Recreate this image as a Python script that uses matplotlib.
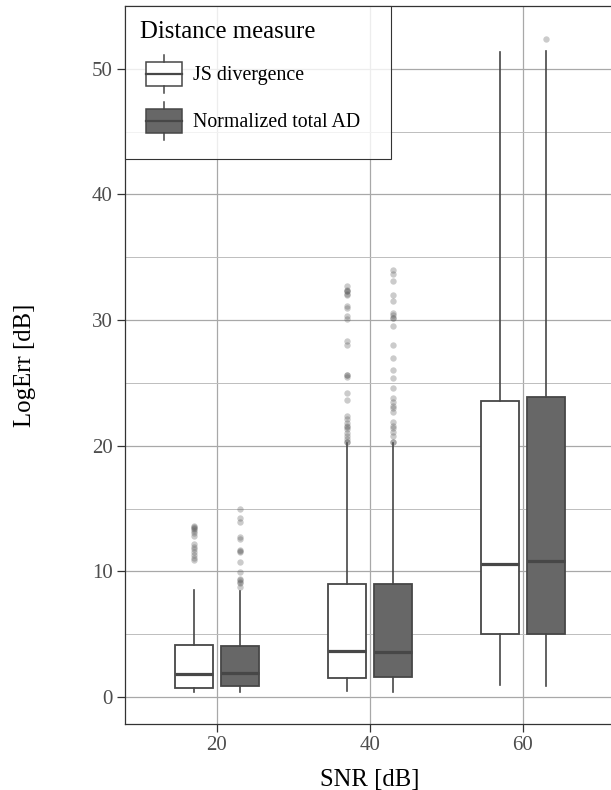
import numpy as np
import matplotlib
matplotlib.use("Agg")
import matplotlib.pyplot as plt
from matplotlib.patches import Patch, Rectangle
from matplotlib.lines import Line2D
from matplotlib.legend_handler import HandlerBase
from matplotlib.ticker import MultipleLocator

plt.rcParams['font.family'] = ['Liberation Serif', 'DejaVu Serif']

# data
snr_labels = ['20', '40', '60']
measures = ['JS divergence', 'Normalized total AD']

js_q1 = [0.72, 1.49, 5.0]
js_med = [1.81, 3.65, 10.6]
js_q3 = [4.14, 8.97, 23.57]
js_lo = [0.42, 0.48, 0.96]
js_hi = [8.52, 20.2, 51.3]

ad_q1 = [0.9, 1.62, 5.0]
ad_med = [1.89, 3.6, 10.83]
ad_q3 = [4.06, 9.0, 23.9]
ad_lo = [0.37, 0.42, 0.88]
ad_hi = [8.46, 20.2, 51.4]

js_out_20 = [13.64, 13.51, 13.45, 13.38, 13.22, 13.03, 12.84, 12.16, 11.97, 11.78, 11.57, 11.31, 11.09, 10.88]
ad_out_20 = [14.97, 14.28, 13.96, 12.76, 12.56, 11.7, 11.6, 11.52, 10.77, 9.98, 9.39, 9.32, 9.18, 9.05, 8.73]
js_out_40 = [32.7, 32.4, 32.3, 32.3, 32.1, 32.0, 31.1, 31.0, 30.3, 30.1, 28.3, 28.0, 25.6, 25.6, 25.5,
             24.2, 23.6, 22.4, 22.1, 21.8, 21.6, 21.5, 21.3, 21.0, 20.8, 20.5, 20.3, 20.3]
ad_out_40 = [34.0, 33.7, 33.1, 32.0, 31.5, 30.6, 30.4, 30.2, 30.2, 29.5, 28.0, 27.0, 26.0, 25.4, 24.6,
             23.8, 23.5, 23.2, 23.0, 22.7, 21.9, 21.6, 21.4, 21.1, 20.8, 20.3, 20.3]
js_out_60 = []
ad_out_60 = [52.4]

fills = ['white', '#676767']
edge = '#474747'


def make_stats(q1, med, q3, lo, hi, outs):
    return [dict(q1=a, med=b, q3=c, whislo=d, whishi=e, fliers=np.array(f))
            for a, b, c, d, e, f in zip(q1, med, q3, lo, hi, outs)]


class BoxKeyHandler(HandlerBase):
    # small boxplot glyph like the ggplot legend key
    def create_artists(self, legend, orig_handle, xdescent, ydescent,
                       width, height, fontsize, trans):
        cx = -xdescent + width / 2
        bw = width * 0.75
        y0 = -ydescent
        bh = height * 0.63
        by = y0 + (height - bh) / 2
        rect = Rectangle((cx - bw / 2, by), bw, bh, facecolor=orig_handle.get_facecolor(),
                         edgecolor=edge, lw=1.1, transform=trans)
        med = Line2D([cx - bw / 2, cx + bw / 2], [by + bh / 2] * 2, color=edge, lw=1.6, transform=trans)
        top = Line2D([cx, cx], [by + bh, y0 + height], color=edge, lw=1.1, transform=trans)
        bot = Line2D([cx, cx], [y0, by], color=edge, lw=1.1, transform=trans)
        return [rect, med, top, bot]


W, H = 611, 790
fig = plt.figure(figsize=(W / 100, H / 100), dpi=100)
ax = fig.add_axes([125 / W, 66 / H, 489.8 / W, 718 / H])

pos = np.arange(1, len(snr_labels) + 1)
groups = [
    make_stats(js_q1, js_med, js_q3, js_lo, js_hi, [js_out_20, js_out_40, js_out_60]),
    make_stats(ad_q1, ad_med, ad_q3, ad_lo, ad_hi, [ad_out_20, ad_out_40, ad_out_60]),
]
offsets = [-0.15, 0.15]

for stats, off, fc in zip(groups, offsets, fills):
    ax.bxp(stats, positions=pos + off, widths=0.25, patch_artist=True, showcaps=False,
           boxprops=dict(facecolor=fc, edgecolor=edge, lw=1.3),
           medianprops=dict(color=edge, lw=2.3),
           whiskerprops=dict(color=edge, lw=1.2),
           flierprops=dict(marker='o', markersize=4.6, markerfacecolor='#555555',
                           markeredgecolor='none', alpha=0.3),
           zorder=3)

ax.set_xlim(0.4, 3.6)
ax.set_ylim(-2.15, 55.0)
ax.set_xticks(pos)
ax.set_xticklabels(snr_labels)
ax.yaxis.set_major_locator(MultipleLocator(10))
ax.yaxis.set_minor_locator(MultipleLocator(5))

ax.grid(True, which='major', color='#a8a8a8', lw=0.9, zorder=0)
ax.grid(True, which='minor', axis='y', color='#bdbdbd', lw=0.7, zorder=0)
ax.set_axisbelow(True)

for s in ax.spines.values():
    s.set_color('#333333')
    s.set_linewidth(0.9)

ax.tick_params(axis='both', which='major', direction='out', length=5.5, width=0.9,
               color='#333333', labelcolor='#4d4d4d', labelsize=15, pad=3.5)
ax.tick_params(axis='y', which='minor', length=0)

ax.set_xlabel('SNR [dB]', fontsize=17.8, labelpad=10)
ax.set_ylabel('LogErr [dB]', fontsize=17.8, labelpad=40)

# legend: frame, title and keys
frame = Rectangle((0, (724 - 159) / 718), 266 / 489.8, 153 / 718, transform=ax.transAxes,
                  facecolor=(1, 1, 1, 0.8), edgecolor='#333333', lw=0.8, zorder=4, clip_on=False)
ax.add_patch(frame)
ax.text(140 / W, 1 - 38 / H, 'Distance measure', transform=fig.transFigure,
        fontsize=17.8, ha='left', va='baseline', zorder=6)

handles = [Patch(facecolor=fc) for fc in fills]
leg = ax.legend(handles, measures, loc='upper left',
                bbox_to_anchor=(140 / W, 1 - 55 / H), bbox_transform=fig.transFigure,
                borderaxespad=0, borderpad=0, fontsize=14.3, frameon=False,
                handler_map={Patch: BoxKeyHandler()},
                handlelength=2.42, handleheight=2.57, handletextpad=0.25,
                labelspacing=0.45)
leg.set_zorder(5)

fig.savefig('out.png', dpi=100)
